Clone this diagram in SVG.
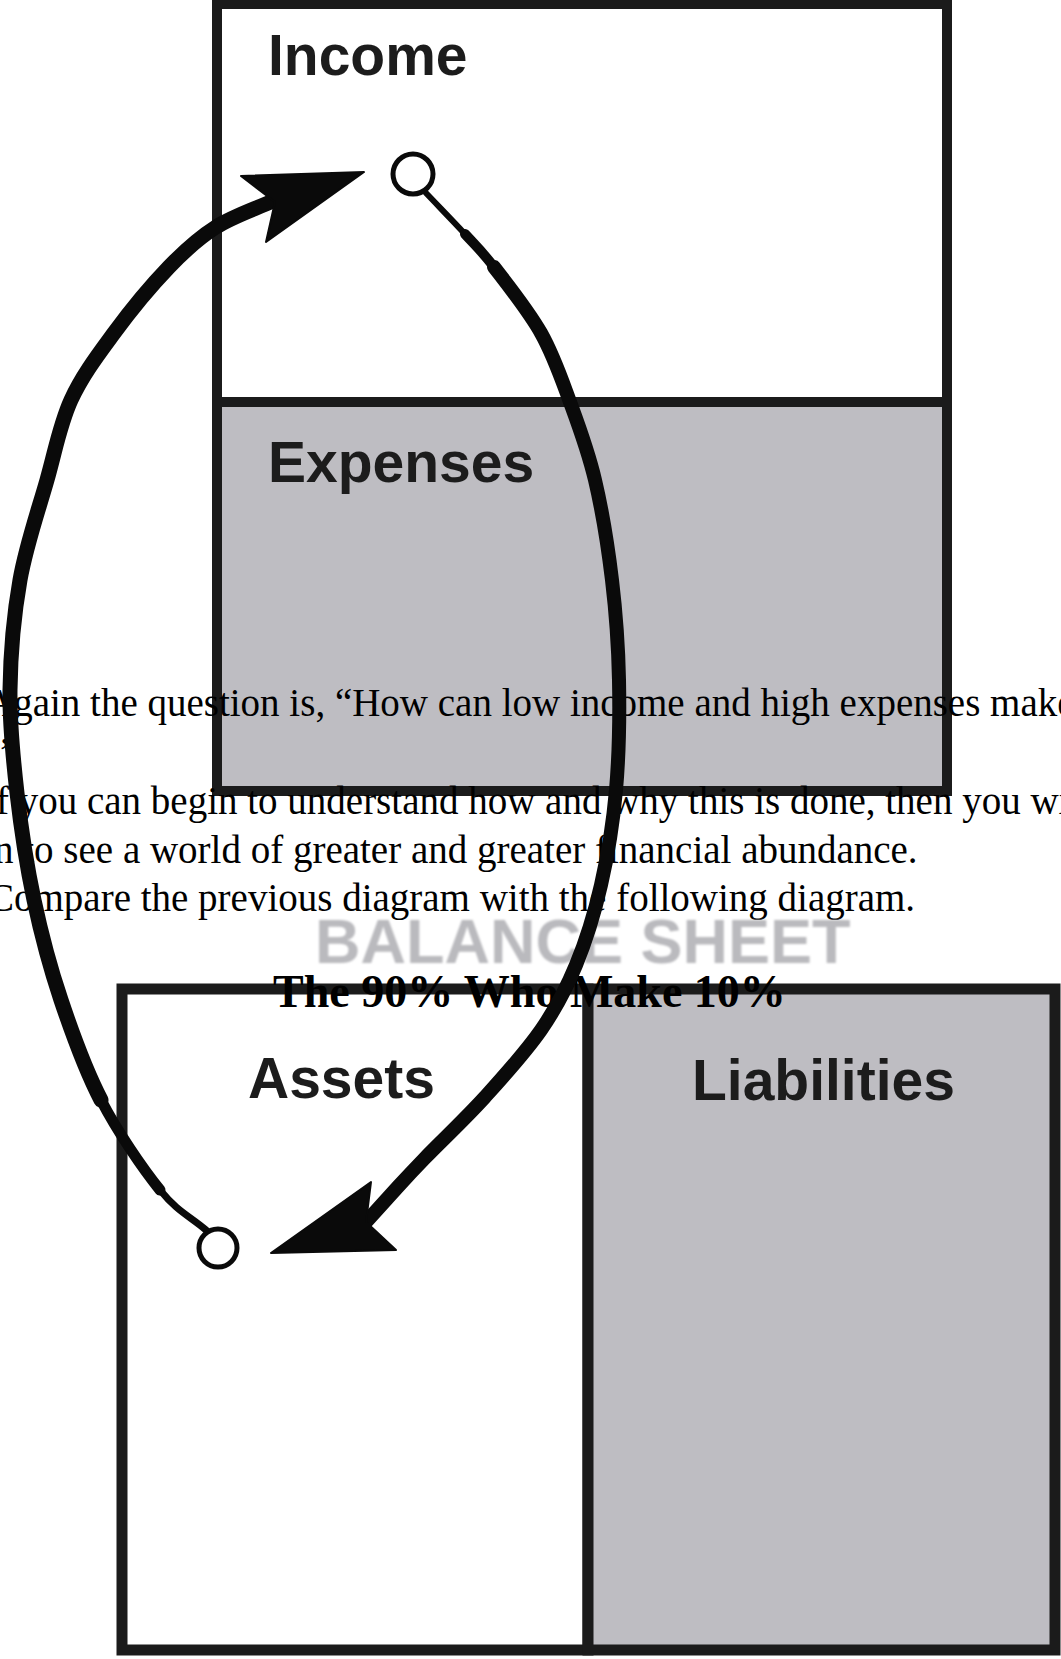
<svg xmlns="http://www.w3.org/2000/svg" width="1061" height="1659" viewBox="0 0 1061 1659">
  <defs>
    <filter id="soft" x="-5%" y="-20%" width="110%" height="140%">
      <feGaussianBlur stdDeviation="1.2"/>
    </filter>
  </defs>
  <style>
    .box { stroke: #1b1b1b; stroke-width: 10; }
    .white { fill: #ffffff; }
    .gray { fill: #bebdc2; }
    .label { font-family: "Liberation Sans", Arial, sans-serif; font-weight: bold; font-size: 57px; fill: #1c1c1c; }
    .body { font-family: "Liberation Serif", "Times New Roman", serif; font-size: 39px; fill: #000000; }
    .title { font-family: "Liberation Serif", "Times New Roman", serif; font-weight: bold; font-size: 46px; fill: #000000; }
    .sheet { font-family: "Liberation Sans", Arial, sans-serif; font-weight: bold; font-size: 63px; fill: #bababe; }
    .arc { fill: none; stroke: #0a0a0a; stroke-linecap: round; stroke-linejoin: round; }
    .dot { fill: #ffffff; stroke: #0a0a0a; stroke-width: 5; }
    .head { fill: #0a0a0a; stroke: #0a0a0a; stroke-width: 2; stroke-linejoin: round; }
  </style>
  <rect x="0" y="0" width="1061" height="1659" fill="#ffffff"/>

  <g id="node-income">
    <rect class="box white" x="217" y="4" width="730" height="398"/>
    <text class="label" x="268" y="75">Income</text>
  </g>
  <g id="node-expenses">
    <rect class="box gray" x="217" y="402" width="730" height="389"/>
    <text class="label" x="268" y="482">Expenses</text>
  </g>

  <g id="node-assets">
    <rect class="box white" x="122" y="989" width="466" height="661" style="stroke-width:11"/>
    <text class="label" x="248" y="1098">Assets</text>
  </g>
  <g id="node-liabilities">
    <rect class="box gray" x="588" y="989" width="467" height="661" style="stroke-width:11"/>
    <text class="label" x="692" y="1100">Liabilities</text>
  </g>

  <g id="text-body">
    <text class="body" x="-15" y="716">Again the question is, “How can low income and high expenses make</text>
    <text class="body" x="0" y="765">”</text>
    <text class="body" x="-17" y="814">If you can begin to understand how and why this is done, then you wi</text>
    <text class="body" x="-6" y="863">n to see a world of greater and greater financial abundance.</text>
    <text class="body" x="-12" y="911">Compare the previous diagram with the following diagram.</text>
    <text class="sheet" x="315" y="963" filter="url(#soft)">BALANCE SHEET</text>
    <text class="title" x="273" y="1007">The 90% Who Make 10%</text>
  </g>

  <g id="connectors">
    <!-- left arc: Assets -> Income -->
    <path class="arc" stroke-width="7" d="M206,1230 C190.7,1216.7 177.5,1211.7 160,1190"/>
    <path class="arc" stroke-width="11" d="M160,1190 C142.5,1168.3 117.5,1131.7 101,1100"/>
    <path class="arc" stroke-width="15" d="M101,1100 C84.5,1068.3 72.2,1033.3 61,1000 C49.8,966.7 41.3,934.5 34,900 C26.7,865.5 21,828 17,793 C13,758 9.5,725.5 10,690 C10.5,654.5 13.8,615 20,580 C26.2,545 38.5,510 47,480 C55.5,450 59.8,424.5 71,400 C82.2,375.5 97.7,355.2 114,333 C130.3,310.8 152,284.7 169,267 C186,249.3 198.3,238.2 216,227 C233.7,215.8 255.3,209 275,200"/>
    <polygon class="head" points="364,172 241,176 275,202 266,242"/>
    <!-- right arc: Income -> Assets -->
    <path class="arc" stroke-width="6" d="M426,193 C439,206.7 453.7,221.7 465,234"/>
    <path class="arc" stroke-width="10" d="M465,234 C476.3,246.3 481.3,250.5 494,267"/>
    <path class="arc" stroke-width="14" d="M494,267 C506.7,283.5 528.3,310.5 541,333 C553.7,355.5 561,377.5 570,402 C579,426.5 588,450.3 595,480 C602,509.7 608,546.7 612,580 C616,613.3 618.3,645 619,680 C619.7,715 619,755.8 616,790 C613,824.2 607.7,855.8 601,885 C594.3,914.2 586,940.8 576,965 C566,989.2 556.2,1008 541,1030 C525.8,1052 504.3,1075.7 485,1097 C465.7,1118.3 440,1142.5 425,1158 C410,1173.5 404.8,1179.3 395,1190 C385.2,1200.7 375.7,1211.3 366,1222"/>
    <polygon class="head" points="271,1253 371,1182 366,1222 396,1250"/>
    <circle class="dot" cx="413" cy="174" r="20"/>
    <circle class="dot" cx="218" cy="1248" r="19"/>
  </g>
</svg>
